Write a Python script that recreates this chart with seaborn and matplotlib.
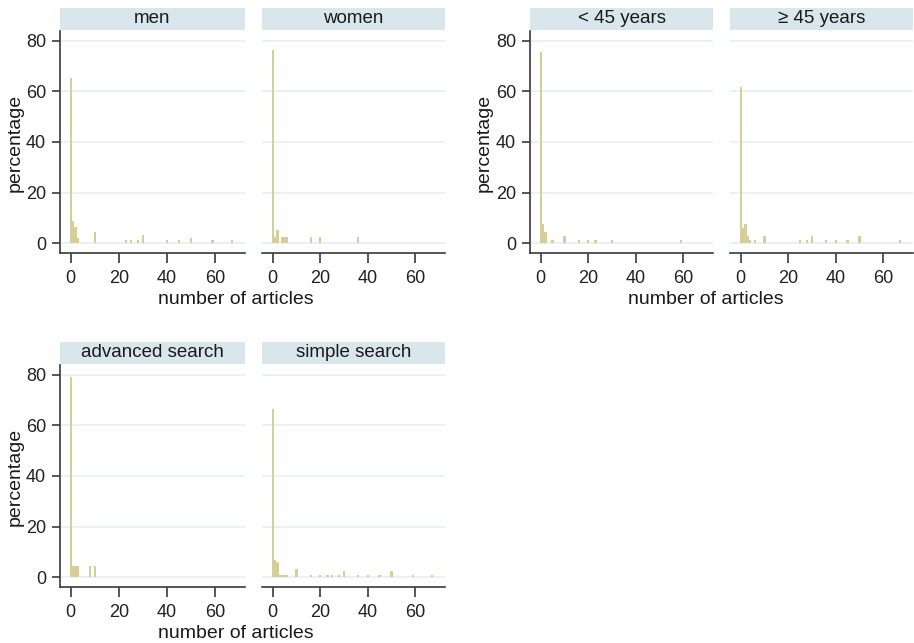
import numpy as np
import pandas as pd
import matplotlib
matplotlib.use("Agg")
import matplotlib.pyplot as plt
import seaborn as sns
from matplotlib.patches import Rectangle

# number of articles (discrete bin centre) and percentage of respondents
men_articles = [0, 1, 2, 3, 10, 23, 25, 28, 30, 40, 45, 50, 59, 67]
men_pct = [65.2, 8.7, 6.5, 2.2, 4.3, 1.1, 1.1, 1.1, 3.3, 1.1, 1.1, 2.2, 1.1, 1.1]

women_articles = [0, 1, 2, 4, 5, 6, 16, 20, 36]
women_pct = [76.3, 2.6, 5.3, 2.6, 2.6, 2.6, 2.6, 2.6, 2.6]

young_articles = [0, 1, 2, 5, 10, 16, 20, 23, 30, 59]
young_pct = [75.4, 7.7, 4.5, 1.3, 2.9, 1.3, 1.3, 1.3, 1.3, 1.3]

old_articles = [0, 1, 2, 3, 4, 6, 10, 25, 28, 30, 36, 40, 45, 50, 67]
old_pct = [61.5, 6.0, 7.5, 2.9, 1.4, 1.4, 2.9, 1.4, 1.4, 2.9, 1.4, 1.4, 1.4, 2.9, 1.4]

adv_articles = [0, 1, 2, 3, 8, 10]
adv_pct = [79.2, 4.2, 4.2, 4.2, 4.2, 4.2]

simple_articles = [0, 1, 2, 3, 4, 5, 6, 10, 16, 20, 23, 25, 28, 30, 36, 40, 45, 50, 59, 67]
simple_pct = [66.4, 6.9, 6.0, 0.9, 0.9, 0.9, 0.9, 3.3, 0.9, 0.9, 0.9, 0.9, 0.9, 2.6,
              0.9, 0.9, 0.9, 2.6, 0.9, 0.9]

panel_titles = ["men", "women", "< 45 years", "\u2265 45 years",
                "advanced search", "simple search"]

x_ticks = [0, 20, 40, 60]
y_ticks = [0, 20, 40, 60, 80]

BAR = "#d6ce98"
STRIP = "#d9e6ec"
AXC = "#3a3a3a"
GRID = "#e6eff2"

sns.set_theme(style="white")
plt.rcParams["font.family"] = ["Liberation Sans", "DejaVu Sans"]

W, H = 914, 643
fig = plt.figure(figsize=(W / 100, H / 100), dpi=100)


def px_axes(x0, x1, y_top, y_bot):
    return fig.add_axes([x0 / W, 1 - y_bot / H, (x1 - x0) / W, (y_bot - y_top) / H])


def draw_panel(ax, articles, pct, title, left):
    df = pd.DataFrame({"articles": articles, "pct": pct})
    sns.histplot(data=df, x="articles", weights="pct", discrete=True, stat="count",
                 color=BAR, alpha=1, linewidth=0, ax=ax)
    ax.set_xlim(-4.5, 72.5)
    ax.set_ylim(-3.9, 83.8)
    ax.set_xticks(x_ticks)
    ax.set_yticks(y_ticks)
    ax.set_xlabel("")
    ax.set_ylabel("")
    ax.set_axisbelow(True)
    ax.yaxis.grid(True, color=GRID, lw=1.2)
    ax.xaxis.grid(False)
    for s in ["top", "right"]:
        ax.spines[s].set_visible(False)
    ax.spines["bottom"].set_color(AXC)
    ax.spines["bottom"].set_linewidth(1.2)
    ax.tick_params(axis="x", direction="out", length=7, width=1.2, color=AXC,
                   labelsize=13, labelcolor="#222222", pad=5, bottom=True)
    if left:
        ax.spines["left"].set_color(AXC)
        ax.spines["left"].set_linewidth(1.2)
        ax.tick_params(axis="y", direction="out", length=6, width=1.2, color=AXC,
                       labelsize=13, labelcolor="#222222", pad=4, left=True)
    else:
        ax.spines["left"].set_visible(False)
        ax.tick_params(axis="y", left=False, labelleft=False)
    # strip on top of each panel
    h = 22 / (ax.get_position().height * H)
    ax.add_patch(Rectangle((0, 1.005), 1, h, transform=ax.transAxes,
                           facecolor=STRIP, edgecolor="none", clip_on=False))
    ax.text(0.5, 1.005 + h / 2, title, transform=ax.transAxes, ha="center",
            va="center", fontsize=13.5, color="#1a1a1a")


# top-left: gender
ax1 = px_axes(60, 245, 31, 253)
ax2 = px_axes(262, 445, 31, 253)
draw_panel(ax1, men_articles, men_pct, panel_titles[0], True)
draw_panel(ax2, women_articles, women_pct, panel_titles[1], False)

# top-right: age
ax3 = px_axes(530, 713, 31, 253)
ax4 = px_axes(730, 913, 31, 253)
draw_panel(ax3, young_articles, young_pct, panel_titles[2], True)
draw_panel(ax4, old_articles, old_pct, panel_titles[3], False)

# bottom-left: search type
ax5 = px_axes(60, 245, 365, 587)
ax6 = px_axes(262, 445, 365, 587)
draw_panel(ax5, adv_articles, adv_pct, panel_titles[4], True)
draw_panel(ax6, simple_articles, simple_pct, panel_titles[5], False)

# axis titles, one per combined sub-graph
lab = dict(fontsize=14, color="#1a1a1a")
for xc, yc in [(236, 300), (706, 300), (236, 633)]:
    fig.text(xc / W, 1 - yc / H, "number of articles", ha="center", va="center", **lab)
for xc, yc in [(15, 143), (484, 143), (15, 477)]:
    fig.text(xc / W, 1 - yc / H, "percentage", ha="center", va="center",
             rotation=90, **lab)

fig.savefig("out.png", dpi=100, facecolor="white")
